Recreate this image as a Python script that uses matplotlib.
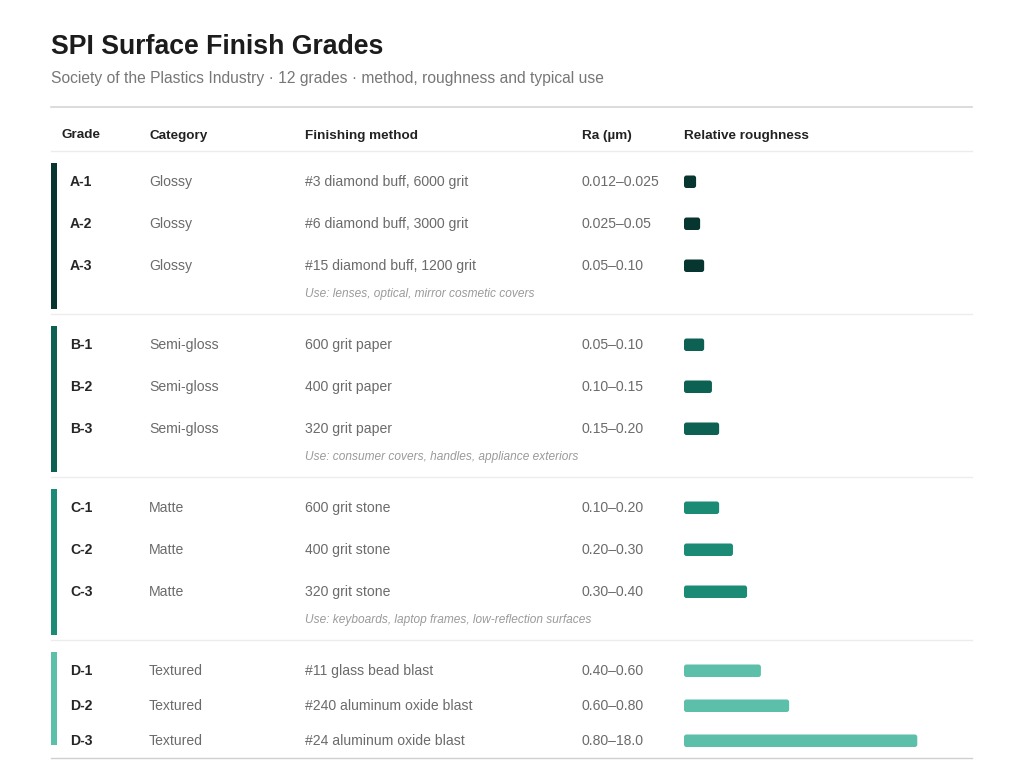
import matplotlib
matplotlib.use('Agg')
import matplotlib.pyplot as plt
from matplotlib.patches import FancyBboxPatch

plt.rcParams['font.family'] = ['Liberation Sans', 'DejaVu Sans']

# data
grades = ['A-1', 'A-2', 'A-3', 'B-1', 'B-2', 'B-3',
          'C-1', 'C-2', 'C-3', 'D-1', 'D-2', 'D-3']
categories = ['Glossy'] * 3 + ['Semi-gloss'] * 3 + ['Matte'] * 3 + ['Textured'] * 3
methods = ['#3 diamond buff, 6000 grit', '#6 diamond buff, 3000 grit',
           '#15 diamond buff, 1200 grit',
           '600 grit paper', '400 grit paper', '320 grit paper',
           '600 grit stone', '400 grit stone', '320 grit stone',
           '#11 glass bead blast', '#240 aluminum oxide blast',
           '#24 aluminum oxide blast']
ra_ranges = ['0.012\u20130.025', '0.025\u20130.05', '0.05\u20130.10',
             '0.05\u20130.10', '0.10\u20130.15', '0.15\u20130.20',
             '0.10\u20130.20', '0.20\u20130.30', '0.30\u20130.40',
             '0.40\u20130.60', '0.60\u20130.80', '0.80\u201318.0']
# relative roughness (bar length, 0-100 scale)
rel_rough = [4.2, 5.6, 7.0, 7.0, 9.7, 12.2, 12.2, 17.0, 21.9, 26.7, 36.5, 81.0]
group_notes = ['Use: lenses, optical, mirror cosmetic covers',
               'Use: consumer covers, handles, appliance exteriors',
               'Use: keyboards, laptop frames, low-reflection surfaces',
               None]
group_colors = ['#07352f', '#0d6153', '#1b8b76', '#5bbfa9']

fig = plt.figure(figsize=(10.24, 7.68), dpi=100)
ax = fig.add_axes([0, 0, 1, 1])
ax.set_xlim(0, 1024)
ax.set_ylim(768, 0)
ax.axis('off')

X_GRADE, X_CAT, X_METH, X_RA, X_BAR = 70, 149, 305, 582, 684
PX_PER_UNIT = 2.88
LEFT, RIGHT = 51, 972
FS = 10.05

ax.text(LEFT, 47, 'SPI Surface Finish Grades', fontsize=19.2, fontweight='bold',
        color='#1c1c1c', va='center')
ax.text(LEFT, 79, 'Society of the Plastics Industry \u00b7 12 grades \u00b7 '
        'method, roughness and typical use', fontsize=11.25, color='#777777',
        va='center')
ax.plot([LEFT, RIGHT], [107, 107], color='#d5d5d5', lw=1.2)

hy = 135.5
for x, lab in [(61, 'Grade'), (X_CAT, 'Category'), (X_METH, 'Finishing method'),
               (X_RA, 'Ra (\u00b5m)'), (X_BAR, 'Relative roughness')]:
    ax.text(x, hy, lab, fontsize=9.7, fontweight='bold', color='#222222',
            va='center')
ax.plot([LEFT, RIGHT], [151, 151], color='#ececec', lw=1)

# row layout
group_tops = [163, 326, 489, 652]
group_bots = [309, 472, 635, 745]
row_step = [42, 42, 42, 35]
first_row = [181, 344, 507, 670]
seps = [314, 477, 640, 758]

for g in range(4):
    col = group_colors[g]
    ax.add_patch(plt.Rectangle((51, group_tops[g]), 5.5,
                               group_bots[g] - group_tops[g], color=col, lw=0))
    for k in range(3):
        i = g * 3 + k
        y = first_row[g] + k * row_step[g]
        ty = y + 1
        ax.text(X_GRADE, ty, grades[i], fontsize=FS, fontweight='bold',
                color='#262626', va='center')
        ax.text(X_CAT, ty, categories[i], fontsize=FS, color='#6b6b6b',
                va='center')
        ax.text(X_METH, ty, methods[i], fontsize=FS, color='#6b6b6b',
                va='center')
        ax.text(X_RA, ty, ra_ranges[i], fontsize=FS, color='#6b6b6b',
                va='center')
        w = rel_rough[i] * PX_PER_UNIT
        ax.add_patch(FancyBboxPatch((X_BAR, y - 5.5), w, 12.5,
                                    boxstyle='round,pad=0,rounding_size=2.5',
                                    fc=col, ec='none'))
    if group_notes[g]:
        ax.text(X_METH, first_row[g] + 2 * row_step[g] + 29, group_notes[g],
                fontsize=8.6, style='italic', color='#9a9a9a', va='center')
    sep_col = '#d0d0d0' if g == 3 else '#ececec'
    ax.plot([LEFT, RIGHT], [seps[g], seps[g]], color=sep_col, lw=1)

fig.savefig('out.png', dpi=100, facecolor='white')
